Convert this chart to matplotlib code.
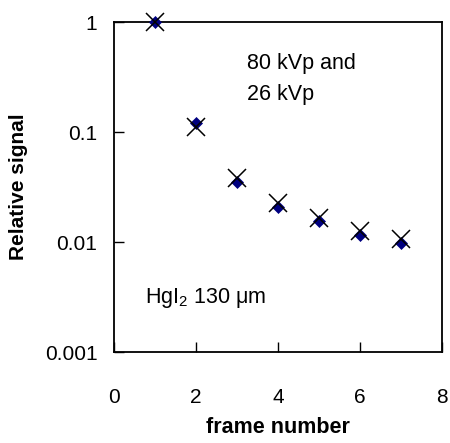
import matplotlib
matplotlib.use("Agg")
import matplotlib.pyplot as plt

plt.rcParams['font.family'] = ['Liberation Sans', 'DejaVu Sans']
plt.rcParams['mathtext.fontset'] = 'custom'
plt.rcParams['mathtext.rm'] = 'Liberation Sans'
plt.rcParams['mathtext.it'] = 'Liberation Sans:italic'

frames = [1, 2, 3, 4, 5, 6, 7]
signal_diamond = [1.0, 0.12, 0.035, 0.021, 0.0154, 0.0117, 0.0097]
signal_cross = [1.0, 0.11, 0.038, 0.0225, 0.0165, 0.0126, 0.0107]

xticks = [0, 2, 4, 6, 8]
yticks = [0.001, 0.01, 0.1, 1]
ytick_labels = ['0.001', '0.01', '0.1', '1']

fig = plt.figure(figsize=(4.5, 4.43), dpi=100)
ax = fig.add_axes([0.2533, 0.2054, 0.7289, 0.7449])

ax.plot(frames, signal_diamond, linestyle='none', marker='D', markersize=6.4,
        markeredgewidth=0.5, color='#000080', clip_on=False, zorder=3)
ax.plot(frames, signal_cross, linestyle='none', marker='x', markersize=13.5,
        markeredgewidth=1.1, color='black', clip_on=False, zorder=4)

ax.set_yscale('log')
ax.set_xlim(0, 8)
ax.set_ylim(0.001, 1)
ax.set_xticks(xticks)
ax.set_xticklabels([str(t) for t in xticks])
ax.set_yticks(yticks)
ax.set_yticklabels(ytick_labels)
ax.minorticks_off()
ax.tick_params(axis='x', direction='in', length=7, width=1, pad=26, labelsize=15)
ax.tick_params(axis='y', direction='in', length=7, width=1, pad=12, labelsize=15)
for s in ax.spines.values():
    s.set_visible(True)
    s.set_linewidth(1.3)
    s.set_color('black')

ax.set_xlabel('frame number', fontsize=15.5, fontweight='bold', labelpad=7)
ax.set_ylabel('Relative signal', fontsize=15, fontweight='bold', labelpad=12)

ax.text(0.407, 0.906, '80 kVp and\n26 kVp', transform=ax.transAxes,
        fontsize=15.5, ha='left', va='top', linespacing=1.6)
ax.text(0.094, 0.148, 'HgI$_2$ 130 μm', transform=ax.transAxes,
        fontsize=15.5, ha='left', va='baseline')

fig.savefig('out.png', dpi=100)
